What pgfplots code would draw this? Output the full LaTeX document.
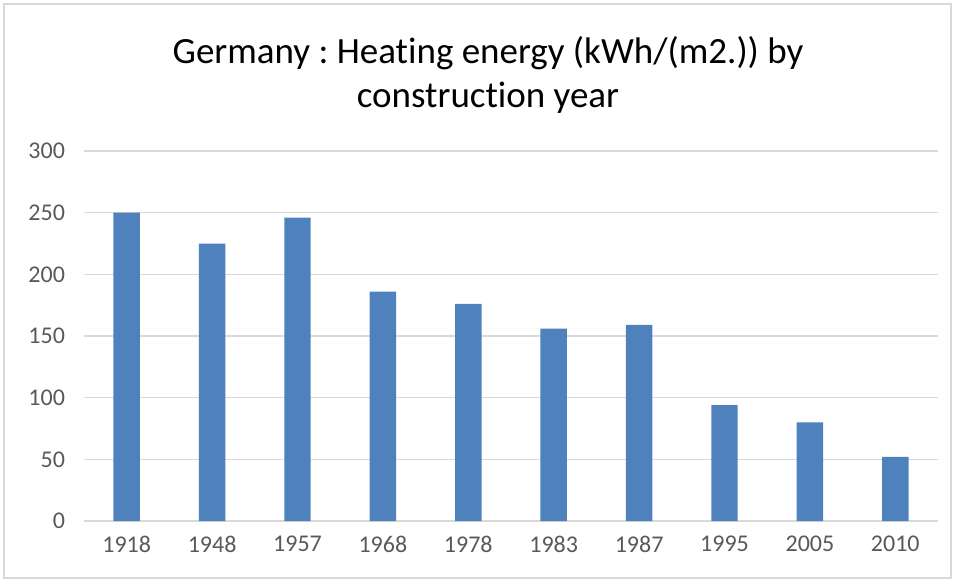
\documentclass[border=0pt]{standalone}
\usepackage{pgfplots}
\pgfplotsset{compat=1.18}
\usepackage{fontspec}
\setmainfont{Carlito}[Ligatures=NoCommon]
\definecolor{barblue}{HTML}{4F81BD}
\definecolor{gridgray}{HTML}{D9D9D9}
\definecolor{ticktext}{HTML}{595959}
\frenchspacing
\begin{document}
\begin{tikzpicture}
\useasboundingbox (-42bp,-30bp) rectangle (436bp,260.5bp);
\draw[gridgray, line width=0.8bp] (-40bp,-28.5bp) rectangle (433.5bp,258.5bp);
\begin{axis}[
  at={(0,0)}, anchor=south west,
  scale only axis,
  width=427bp, height=185bp,
  xmin=-0.5, xmax=9.5,
  ymin=0, ymax=300,
  ytick={0,50,...,300},
  xtick={0,...,9},
  xticklabels={1918,1948,1957,1968,1978,1983,1987,1995,2005,2010},
  ymajorgrids,
  grid style={gridgray, line width=0.8bp},
  axis x line*=bottom,
  axis y line*=left,
  x axis line style={gridgray, line width=0.8bp, -},
  y axis line style={draw=none},
  major tick length=0pt,
  tick style={draw=none},
  ticklabel style={font=\fontsize{12bp}{14bp}\selectfont, text=ticktext},
  yticklabel style={xshift=-6bp},
  xticklabel style={yshift=-4bp},
  /pgf/number format/assume math mode=true,
  yticklabel={\pgfmathprintnumber{\tick}},
]
\addplot[ybar, bar width=0.31, fill=barblue, draw=none] coordinates {
  (0,250) (1,225) (2,246) (3,186) (4,176) (5,156) (6,159) (7,94) (8,80) (9,52)
};
\end{axis}
\node[align=center, font=\fontsize{18.5bp}{22bp}\selectfont, text=black] at (202bp,223bp)
  {Germany : Heating energy (kWh/(m2.)) by\\construction year};
\end{tikzpicture}
\end{document}
